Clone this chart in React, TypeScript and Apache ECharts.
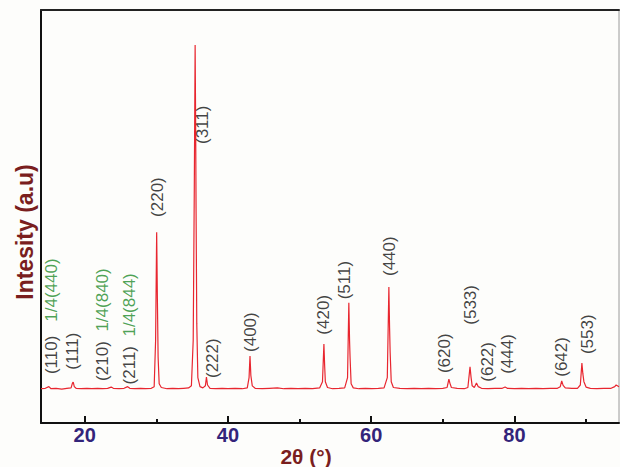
import React, { useEffect, useRef } from "react";
import * as echarts from "echarts";

// XRD pattern: [2θ (°), intensity (a.u.)]
const pattern: [number, number][] = [
  [13.9, 83], [14.5, 84], [15.0, 88], [15.3, 83], [16.0, 84], [16.8, 82], [17.5, 84], [18.1, 85],
  [18.3, 97], [18.4, 99], [18.55, 88], [18.8, 84], [19.5, 83], [20.3, 84], [21.0, 83], [21.8, 84],
  [22.5, 83], [23.2, 84], [23.7, 87], [24.0, 84], [24.8, 83], [25.5, 84], [26.0, 88], [26.3, 84],
  [27.0, 83], [27.8, 84], [28.5, 83], [29.3, 84], [29.7, 88], [29.9, 200], [30.05, 462], [30.15, 300],
  [30.25, 160], [30.4, 95], [30.7, 86], [31.5, 83], [32.3, 84], [33.1, 83], [33.8, 84], [34.5, 85],
  [34.9, 90], [35.15, 200], [35.3, 560], [35.42, 915], [35.5, 700], [35.55, 520], [35.65, 240],
  [35.8, 110], [36.1, 88], [36.5, 85], [36.85, 90], [37.0, 111], [37.15, 92], [37.5, 84], [38.3, 83],
  [39.2, 84], [40.0, 83], [41.0, 84], [42.0, 83], [42.7, 85], [42.95, 110], [43.08, 162], [43.2, 115],
  [43.4, 90], [43.8, 84], [44.8, 83], [45.8, 84], [46.9, 85], [47.8, 83], [48.8, 84], [49.8, 83],
  [50.8, 84], [51.8, 83], [52.8, 85], [53.2, 100], [53.4, 191], [53.5, 140], [53.6, 100], [53.9, 86],
  [54.6, 83], [55.5, 84], [56.3, 85], [56.7, 110], [56.88, 291], [56.98, 200], [57.05, 160], [57.2, 95],
  [57.5, 85], [58.3, 83], [59.2, 84], [60.1, 83], [61.0, 84], [61.8, 85], [62.25, 110], [62.47, 329],
  [62.57, 230], [62.65, 170], [62.8, 100], [63.1, 86], [64.0, 84], [65.0, 83], [66.0, 84], [67.0, 83],
  [68.0, 84], [69.0, 83], [70.0, 84], [70.6, 86], [70.85, 106], [71.0, 96], [71.2, 86], [72.0, 84],
  [73.0, 83], [73.5, 86], [73.8, 136], [73.95, 110], [74.1, 90], [74.4, 86], [74.7, 97], [74.95, 88],
  [75.4, 84], [76.3, 83], [77.3, 84], [78.3, 84], [78.7, 87], [79.0, 84], [80.0, 83], [81.0, 84],
  [82.0, 83], [83.0, 84], [84.0, 83], [85.0, 84], [86.0, 84], [86.4, 88], [86.6, 102], [86.8, 91],
  [87.1, 85], [88.0, 84], [88.8, 84], [89.2, 92], [89.42, 145], [89.55, 120], [89.7, 100], [90.0, 87],
  [90.6, 84], [91.5, 83], [92.5, 84], [93.5, 84], [94.0, 88], [94.2, 92], [94.6, 88],
];

// Peak annotations: label, 2θ position of label centre, intensity of label centre, kind
const peakLabels: string[] = [
  "(110)", "(111)", "1/4(440)", "(210)", "1/4(840)", "(211)", "1/4(844)", "(220)", "(311)", "(222)",
  "(400)", "(420)", "(511)", "(440)", "(620)", "(533)", "(622)", "(444)", "(642)", "(553)",
];
const peakLabelX: number[] = [
  15.3, 18.3, 15.4, 22.5, 22.5, 26.3, 26.3, 30.1, 36.4, 37.8,
  43.1, 53.4, 56.3, 62.6, 70.3, 73.8, 76.3, 79.1, 86.6, 90.2,
];
const peakLabelY: number[] = [
  165, 174, 322, 150, 298, 140, 286, 547, 722, 157,
  220, 262, 346, 404, 169, 286, 148, 167, 160, 215,
];
const peakLabelGreen: boolean[] = [
  false, false, true, false, true, false, true, false, false, false,
  false, false, false, false, false, false, false, false, false, false,
];

const majorTicks: number[] = [20, 40, 60, 80];
const minorTicks: number[] = [30, 50, 70, 90];

const FONT = '"Liberation Sans", Arial, Helvetica, sans-serif';

export default function App() {
  const ref = useRef<HTMLDivElement>(null);

  useEffect(() => {
    document.body.style.margin = "0";
    const chart = echarts.init(ref.current!, null, { renderer: "svg" });
    const xMin = 13.9;
    const xMax = 94.6;
    chart.setOption({
      animation: false,
      backgroundColor: "#fdfdfb",
      grid: {
        left: 41,
        right: 1,
        top: 10,
        bottom: 44,
        show: true,
        borderColor: "#9a9a9a",
        borderWidth: 1,
        containLabel: false,
        outerBoundsMode: "none",
      },
      xAxis: [
        {
          type: "value",
          min: xMin,
          max: xMax,
          position: "bottom",
          axisLine: { show: true, lineStyle: { color: "#111", width: 2 } },
          axisTick: {
            show: true,
            inside: true,
            length: 7,
            customValues: majorTicks,
            lineStyle: { color: "#111", width: 2 },
          },
          axisLabel: {
            show: true,
            customValues: majorTicks,
            margin: 2,
            color: "#33247a",
            fontSize: 20,
            fontWeight: "bold",
            fontFamily: FONT,
          },
          splitLine: { show: false },
        },
        {
          type: "value",
          min: xMin,
          max: xMax,
          position: "bottom",
          axisLine: { show: false },
          axisTick: {
            show: true,
            inside: true,
            length: 4,
            customValues: minorTicks,
            lineStyle: { color: "#111", width: 2 },
          },
          axisLabel: { show: false },
          splitLine: { show: false },
        },
        {
          type: "value",
          min: xMin,
          max: xMax,
          position: "top",
          axisLine: { show: true, lineStyle: { color: "#222", width: 2 } },
          axisTick: { show: false },
          axisLabel: { show: false },
          splitLine: { show: false },
        },
      ],
      yAxis: {
        type: "value",
        min: 0,
        max: 1000,
        axisLine: { show: true, lineStyle: { color: "#111", width: 2 } },
        axisTick: { show: false },
        axisLabel: { show: false },
        splitLine: { show: false },
      },
      graphic: [
        {
          type: "text",
          x: 25,
          y: 232,
          rotation: Math.PI / 2,
          style: {
            text: "Intesity (a.u)",
            font: `bold 23px ${FONT}`,
            fill: "#7a1e1e",
            align: "center",
            verticalAlign: "middle",
          },
        },
        {
          type: "text",
          x: 306,
          y: 456,
          style: {
            text: "2θ (°)",
            font: `bold 21px ${FONT}`,
            fill: "#7a1e1e",
            align: "center",
            verticalAlign: "middle",
          },
        },
      ],
      series: [
        {
          type: "line",
          data: pattern,
          xAxisIndex: 0,
          yAxisIndex: 0,
          showSymbol: false,
          symbol: "none",
          lineStyle: { color: "#e8262f", width: 1.2 },
          z: 2,
        },
        {
          type: "scatter",
          xAxisIndex: 0,
          yAxisIndex: 0,
          symbolSize: 0,
          silent: true,
          z: 3,
          data: peakLabels.map((name, i) => ({
            name,
            value: [peakLabelX[i], peakLabelY[i]],
            label: { color: peakLabelGreen[i] ? "#1e8a2a" : "#111" },
          })),
          label: {
            show: true,
            position: "inside",
            rotate: 90,
            formatter: "{b}",
            fontSize: 17,
            fontFamily: FONT,
            align: "center",
            verticalAlign: "middle",
          },
        },
      ],
    });
    return () => chart.dispose();
  }, []);

  return <div ref={ref} style={{ width: 620, height: 467 }} />;
}
